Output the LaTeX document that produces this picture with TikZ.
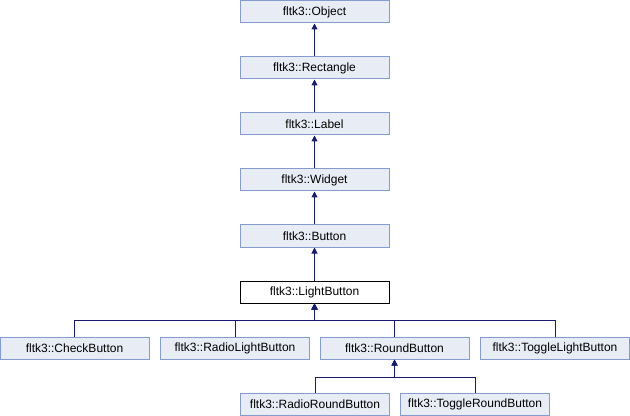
\documentclass[tikz,border=0pt]{standalone}
\usepackage{fontspec}
\setmainfont{Liberation Sans}
\usetikzlibrary{arrows.meta}
\definecolor{boxfill}{RGB}{232,236,245}
\definecolor{boxline}{RGB}{132,155,204}
\definecolor{edgecol}{RGB}{25,25,112}
\tikzset{
  cls/.style={draw=boxline, fill=boxfill, line width=0.75pt, minimum width=111.75pt, minimum height=16.5pt, inner sep=0pt, font=\fontsize{9}{11}\selectfont},
  curcls/.style={cls, draw=black, fill=white},
  edge/.style={draw=edgecol, line width=0.75pt, -{Triangle[length=4.5pt,width=4.5pt]}}
}
\begin{document}
\begin{tikzpicture}[x=0.75pt,y=-0.75pt]
\useasboundingbox (0,0) rectangle (630,416);
\node[cls] (obj) at (314.5,12) {fltk3::Object};
\node[cls] (rect) at (314.5,68) {fltk3::Rectangle};
\node[cls] (lab) at (314.5,124) {fltk3::Label};
\node[cls] (wid) at (314.5,180) {fltk3::Widget};
\node[cls] (btn) at (314.5,236) {fltk3::Button};
\node[curcls] (lb) at (314.5,292) {fltk3::LightButton};
\node[cls] (cb) at (74.5,348) {fltk3::CheckButton};
\node[cls] (rlb) at (235,348) {fltk3::RadioLightButton};
\node[cls] (rb) at (394.5,348) {fltk3::RoundButton};
\node[cls] (tlb) at (555,348) {fltk3::ToggleLightButton};
\node[cls] (rrb) at (315,404) {fltk3::RadioRoundButton};
\node[cls] (trb) at (475,404) {fltk3::ToggleRoundButton};
\coordinate (lbbus) at (314.5,320);
\coordinate (rbbus) at (394.5,377);
\draw[edge] (rect.north) -- (obj.south);
\draw[edge] (lab.north) -- (rect.south);
\draw[edge] (wid.north) -- (lab.south);
\draw[edge] (btn.north) -- (wid.south);
\draw[edge] (lb.north) -- (btn.south);
\draw[edge] (cb.north) |- (lbbus) -- (lb.south);
\draw[edge] (rlb.north) |- (lbbus) -- (lb.south);
\draw[edge] (rb.north) |- (lbbus) -- (lb.south);
\draw[edge] (tlb.north) |- (lbbus) -- (lb.south);
\draw[edge] (rrb.north) |- (rbbus) -- (rb.south);
\draw[edge] (trb.north) |- (rbbus) -- (rb.south);
\end{tikzpicture}
\end{document}
